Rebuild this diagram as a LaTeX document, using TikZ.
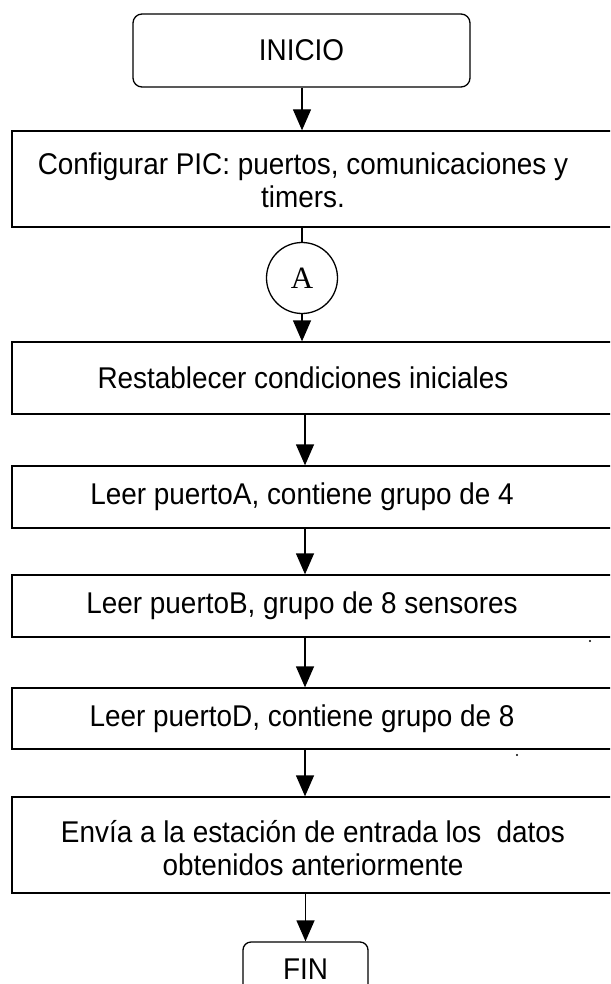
\documentclass[tikz,border=0pt]{standalone}
\usepackage{fontspec}
\setmainfont[FakeStretch=0.93]{Liberation Sans}
\newfontfamily\serifA{Liberation Serif}
\usetikzlibrary{arrows.meta}
\begin{document}
\begin{tikzpicture}[x=1pt,y=-1pt,
 box/.style={draw, line width=1.3pt, minimum width=600pt, inner sep=0pt},
 txt/.style={font=\fontsize{30}{33}\selectfont, align=center, inner sep=0pt},
 arr/.style={line width=1.3pt, -{Triangle[length=21pt,width=18pt]}},
 ln/.style={line width=1.3pt}]
\useasboundingbox (0,0) rectangle (610,984);
\clip (0,0) rectangle (610,984);
% boxes
\node[draw, line width=1.3pt, rounded corners=9pt, minimum width=337pt, minimum height=73pt, txt] (ini) at (301.5,50.5) {INICIO};
\node[box, minimum height=96pt] (cfg) at (312,179) {};
\node[txt] (tcfg) at (303,180) {Configurar PIC: puertos, comunicaciones y\\timers.};
\node[draw, circle, line width=1.3pt, minimum size=71pt, inner sep=0pt, font=\serifA\fontsize{31}{33}\selectfont] (A) at (302,278) {A};
\node[box, minimum height=72pt] (r) at (312,378) {};
\node[txt] (tr) at (303,378) {Restablecer condiciones iniciales};
\node[box, minimum height=62pt] (pa) at (312,497) {};
\node[txt] (tpa) at (302,497) {Leer puertoA, contiene grupo de 4};
\node[box, minimum height=62pt] (pb) at (312,606) {};
\node[txt] (tpb) at (302,606) {Leer puertoB, grupo de 8 sensores};
\node[box, minimum height=61pt] (pd) at (312,718.5) {};
\node[txt] (tpd) at (302,718.5) {Leer puertoD, contiene grupo de 8};
\node[box, minimum height=96pt] (env) at (312,845) {};
\node[txt] (tenv) at (313,848) {Envía a la estación de entrada los \ datos\\obtenidos anteriormente};
\node[draw, line width=1.3pt, rounded corners=8pt, minimum width=125pt, minimum height=54pt, txt] (fin) at (305.5,969) {FIN};
% connectors
\coordinate (c0) at (302,0);
\coordinate (c1) at (305,0);
\draw[arr] (ini.south -| c0) -- (cfg.north -| c0);
\draw[ln] (cfg.south -| A.north) -- (A.north);
\draw[arr] (A.south) -- (r.north -| A.south);
\draw[arr] (r.south -| c1) -- (pa.north -| c1);
\draw[arr] (pa.south -| c1) -- (pb.north -| c1);
\draw[arr] (pb.south -| c1) -- (pd.north -| c1);
\draw[arr] (pd.south -| c1) -- (env.north -| c1);
\draw[arr] (env.south -| fin.north) -- (fin.north);
% stray dots
\fill (590,641) circle (1.2);
\fill (517,755) circle (1.2);
\end{tikzpicture}
\end{document}
